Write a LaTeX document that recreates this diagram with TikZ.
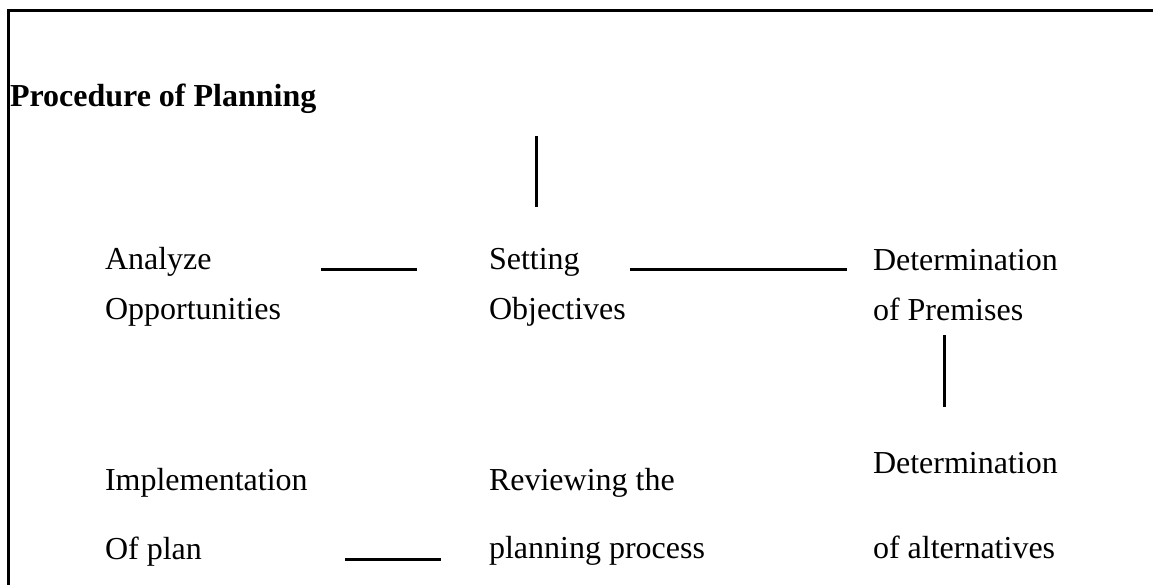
\documentclass[tikz,border=0pt]{standalone}
\usepackage{fontspec}
\setmainfont{Liberation Serif}
\tikzset{
  lbl/.style={anchor=base west, inner sep=0pt, outer sep=0pt, font=\fontsize{24}{28}\selectfont},
  ttl/.style={lbl, font=\fontsize{24}{28}\selectfont\bfseries},
  link/.style={line width=2.25pt},
  frame/.style={line width=2.4pt}
}
\begin{document}
\begin{tikzpicture}[x=0.75pt,y=-0.75pt]
\useasboundingbox (0,0) rectangle (1153,585);
% frame
\coordinate (fb) at (8.5,586);
\coordinate (fc) at (8.5,10.5);
\coordinate (fr) at (1154,10.5);
\draw[frame] (fb) -- (fc) -- (fr);
% title
\node[ttl] (title) at (10,107) {Procedure of Planning};
% texts
\node[lbl] (a1) at (105,269) {Analyze};
\node[lbl] (a2) at (105,319) {Opportunities};
\node[lbl] (s1) at (489,269) {Setting};
\node[lbl] (s2) at (489,319) {Objectives};
\node[lbl] (d1) at (873,270) {Determination};
\node[lbl] (d2) at (873,320) {of Premises};
\node[lbl] (i1) at (105,490) {Implementation};
\node[lbl] (i2) at (105,559) {Of plan};
\node[lbl] (r1) at (489,490) {Reviewing the};
\node[lbl] (r2) at (489,558) {planning process};
\node[lbl] (e1) at (873,473) {Determination};
\node[lbl] (e2) at (873,558) {of alternatives};
% connector end points
\coordinate (v1a) at (536,136);
\coordinate (v1b) at (536,207);
\coordinate (h1a) at (321,269);
\coordinate (h1b) at (417,269);
\coordinate (h2a) at (630,269);
\coordinate (h2b) at (847,269);
\coordinate (v2a) at (944,335);
\coordinate (v2b) at (944,407);
\coordinate (h3a) at (345,559);
\coordinate (h3b) at (441,559);
\draw[link] (v1a) -- (v1b);
\draw[link] (h1a) -- (h1b);
\draw[link] (h2a) -- (h2b);
\draw[link] (v2a) -- (v2b);
\draw[link] (h3a) -- (h3b);
\end{tikzpicture}
\end{document}
